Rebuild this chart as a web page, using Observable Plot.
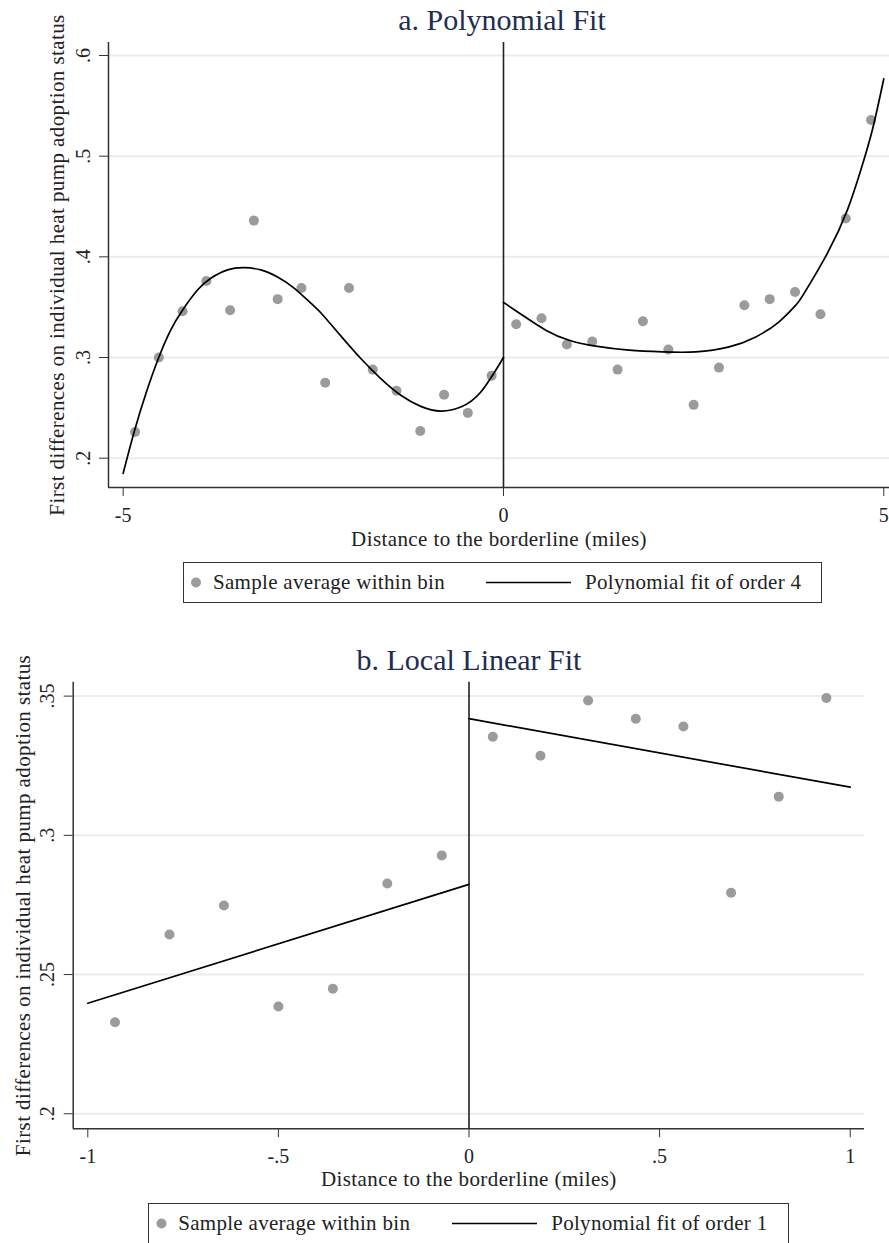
<!DOCTYPE html>
<html>
<head>
<meta charset="utf-8">
<script src="https://cdn.jsdelivr.net/npm/d3@7"></script>
<script src="https://cdn.jsdelivr.net/npm/@observablehq/plot@0.6"></script>
<style>
  html, body { margin: 0; padding: 0; background: #fff; }
  #wrap { position: relative; width: 889px; height: 1243px; overflow: hidden; font-family: "Liberation Serif", "DejaVu Serif", serif; color: #222; }
  .panel { position: absolute; left: 0; }
  .panel [aria-label="x-axis label"], .panel [aria-label="y-axis label"] { font-size: 21px; letter-spacing: 0.4px; }
  .title { position: absolute; width: 500px; text-align: center; font-size: 30px; line-height: 1; color: #1f2d4f; white-space: nowrap; }
  .legend { position: absolute; box-sizing: border-box; border: 1.5px solid #333; height: 41px; background: #fff; font-size: 21px; letter-spacing: 0.3px; }
  .legend .item { position: absolute; top: 0; height: 100%; display: flex; align-items: center; white-space: nowrap; }
  .legend svg { position: absolute; top: 0; }
</style>
</head>
<body>
<div id="wrap"></div>
<script>
// ---------- Panel a: polynomial fit ----------
const binXLeftA  = [-4.844, -4.531, -4.219, -3.906, -3.594, -3.281, -2.969, -2.656, -2.344, -2.031, -1.719, -1.406, -1.094, -0.781, -0.469, -0.156];
const binYLeftA  = [0.226, 0.300, 0.346, 0.376, 0.347, 0.436, 0.358, 0.369, 0.275, 0.369, 0.288, 0.267, 0.227, 0.263, 0.245, 0.282];
const binXRightA = [0.167, 0.500, 0.833, 1.167, 1.500, 1.833, 2.167, 2.500, 2.833, 3.167, 3.500, 3.833, 4.167, 4.500, 4.833];
const binYRightA = [0.333, 0.339, 0.313, 0.316, 0.288, 0.336, 0.308, 0.253, 0.290, 0.352, 0.358, 0.365, 0.343, 0.438, 0.536];
const fitXLeftA  = [-5.0, -4.856, -4.702, -4.535, -4.374, -4.22, -4.023, -3.848, -3.628, -3.41, -3.19, -2.971, -2.753, -2.533, -2.402, -2.139, -1.876, -1.613, -1.35, -1.087, -0.824, -0.561, -0.298, 0.0];
const fitYLeftA  = [0.185, 0.226, 0.264, 0.2995, 0.3275, 0.347, 0.367, 0.3787, 0.387, 0.3892, 0.387, 0.380, 0.369, 0.354, 0.3445, 0.3215, 0.299, 0.279, 0.2625, 0.2515, 0.2468, 0.2508, 0.2657, 0.300];
const fitXRightA = [0.0, 0.25, 0.556, 0.863, 1.213, 1.651, 2.09, 2.528, 2.966, 3.317, 3.623, 3.843, 3.952, 4.259, 4.522, 4.697, 4.851, 5.0];
const fitYRightA = [0.3548, 0.342, 0.3272, 0.3172, 0.3113, 0.3073, 0.3056, 0.3056, 0.3106, 0.3205, 0.3355, 0.352, 0.3637, 0.4036, 0.4467, 0.486, 0.5265, 0.5769];
const xTicksA = [-5, 0, 5];
const yTicksA = [0.2, 0.3, 0.4, 0.5, 0.6];

// ---------- Panel b: local linear fit ----------
const binXLeftB  = [-0.9286, -0.7857, -0.6429, -0.5, -0.3571, -0.2143, -0.0714];
const binYLeftB  = [0.2329, 0.2644, 0.2748, 0.2385, 0.2449, 0.2827, 0.2928];
const binXRightB = [0.0625, 0.1875, 0.3125, 0.4375, 0.5625, 0.6875, 0.8125, 0.9375];
const binYRightB = [0.3354, 0.3286, 0.3484, 0.3419, 0.3391, 0.2794, 0.3139, 0.3493];
const fitXLeftB  = [-1, 0];
const fitYLeftB  = [0.2397, 0.2824];
const fitXRightB = [0, 1];
const fitYRightB = [0.3419, 0.3173];
const xTicksB = [-1, -0.5, 0, 0.5, 1];
const yTicksB = [0.2, 0.25, 0.3, 0.35];

const titles = ["a. Polynomial Fit", "b. Local Linear Fit"];
const yLabel = "First differences on individual heat pump adoption status";
const xLabel = "Distance to the borderline (miles)";
const legendDots = "Sample average within bin";
const legendLines = ["Polynomial fit of order 4", "Polynomial fit of order 1"];

const stataFmt = d => String(+d.toFixed(4)).replace(/^(-?)0\./, "$1.");
const zip = (xs, ys) => xs.map((x, i) => ({x, y: ys[i]}));

const GRID = "#e6eef1", DOT = "#9b9b9b", AXIS = "#333";

function panel(cfg) {
  const pts = zip(cfg.bxl, cfg.byl).concat(zip(cfg.bxr, cfg.byr));
  return Plot.plot({
    width: 889, height: cfg.height,
    marginLeft: cfg.ml, marginRight: cfg.mr, marginTop: cfg.mt, marginBottom: cfg.mb,
    style: {fontFamily: '"Liberation Serif", serif', fontSize: "20px", color: "#222", background: "transparent", overflow: "visible"},
    x: {domain: cfg.xd},
    y: {domain: cfg.yd},
    marks: [
      Plot.gridY(cfg.yt, {stroke: GRID, strokeOpacity: 1, strokeWidth: 2}),
      Plot.ruleX([cfg.xd[0]], {stroke: AXIS, strokeWidth: 1.5}),
      Plot.ruleY([cfg.yd[0]], {stroke: AXIS, strokeWidth: 1.5}),
      Plot.axisY(cfg.yt, {tickRotate: -90, tickSize: 9, tickPadding: 10, tickFormat: stataFmt, stroke: AXIS,
        label: yLabel, labelAnchor: "center", labelArrow: "none", labelOffset: cfg.ylo}),
      Plot.axisX(cfg.xt, {tickSize: 9, tickPadding: 11, tickFormat: stataFmt, stroke: AXIS,
        label: xLabel, labelAnchor: "center", labelArrow: "none", labelOffset: cfg.xlo}),
      Plot.ruleX([0], {stroke: "#222", strokeWidth: 1.6}),
      Plot.dot(pts, {x: "x", y: "y", r: 5, fill: DOT, stroke: "none"}),
      Plot.line(zip(cfg.fxl, cfg.fyl), {x: "x", y: "y", curve: cfg.curve, stroke: "#000", strokeWidth: 1.7}),
      Plot.line(zip(cfg.fxr, cfg.fyr), {x: "x", y: "y", curve: cfg.curve, stroke: "#000", strokeWidth: 1.7})
    ]
  });
}

const wrap = document.getElementById("wrap");

function addPanel(top, cfg) {
  const p = panel(cfg);
  p.classList.add("panel");
  p.style.top = top + "px";
  wrap.appendChild(p);
}

function addTitle(text, cx, top) {
  const d = document.createElement("div");
  d.className = "title";
  d.textContent = text;
  d.style.left = (cx - 250) + "px";
  d.style.top = top + "px";
  wrap.appendChild(d);
}

function addLegend(left, top, width, lineText, o) {
  const d = document.createElement("div");
  d.className = "legend";
  d.style.left = left + "px";
  d.style.top = top + "px";
  d.style.width = width + "px";
  d.innerHTML =
    `<svg width="${width}" height="38" style="left:0">` +
    `<circle cx="${o.dot}" cy="19.5" r="5" fill="${DOT}"></circle>` +
    `<line x1="${o.l1}" x2="${o.l2}" y1="19.5" y2="19.5" stroke="#000" stroke-width="1.7"></line></svg>` +
    `<div class="item" style="left:${o.t1}px">${legendDots}</div>` +
    `<div class="item" style="left:${o.t2}px">${lineText}</div>`;
  wrap.appendChild(d);
}

addPanel(0, {
  height: 555, ml: 108, mr: 0, mt: 42, mb: 68,
  xd: [-5.193, 5.075], yd: [0.1709, 0.6129], xt: xTicksA, yt: yTicksA,
  bxl: binXLeftA, byl: binYLeftA, bxr: binXRightA, byr: binYRightA,
  fxl: fitXLeftA, fyl: fitYLeftA, fxr: fitXRightA, fyr: fitYRightA,
  curve: "natural", ylo: 59, xlo: 58
});
addTitle(titles[0], 502, 5);
addLegend(183, 562, 639, legendLines[0], {dot: 12, t1: 29, l1: 302, l2: 387, t2: 401});

addPanel(630, {
  height: 570, ml: 72.7, mr: 25, mt: 51.7, mb: 71.7,
  xd: [-1.0383, 1.0375], yd: [0.1946, 0.355], xt: xTicksB, yt: yTicksB,
  bxl: binXLeftB, byl: binYLeftB, bxr: binXRightB, byr: binYRightB,
  fxl: fitXLeftB, fyl: fitYLeftB, fxr: fitXRightB, fyr: fitYRightB,
  curve: "linear", ylo: 58, xlo: 57
});
addTitle(titles[1], 469, 645);
addLegend(147.7, 1203.3, 641, legendLines[1], {dot: 12.5, t1: 29.5, l1: 303, l2: 388, t2: 402.5});
</script>
</body>
</html>
